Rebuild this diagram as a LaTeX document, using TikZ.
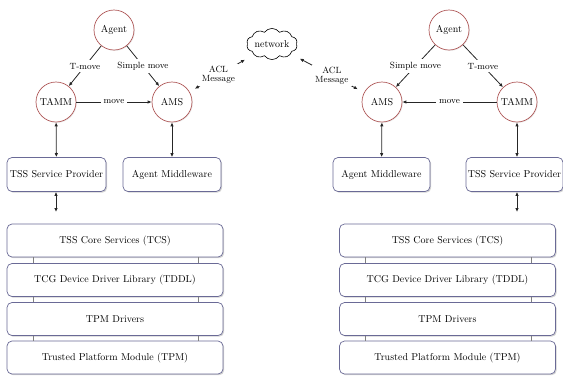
\documentclass[tikz,border=0pt]{standalone}
\usetikzlibrary{shapes.symbols,shadows,arrows.meta}
\definecolor{boxline}{HTML}{6A6A96}
\definecolor{circline}{HTML}{B05A5A}
\tikzset{
  agentnode/.style={circle,draw=circline,line width=0.7pt,fill=white,minimum size=40pt,inner sep=0pt,font=\normalsize,
    drop shadow={opacity=0.2,shadow xshift=0.8pt,shadow yshift=-0.8pt}},
  softbox/.style={rectangle,rounded corners=5pt,draw=boxline,line width=0.7pt,fill=white,inner sep=0pt,font=\normalsize,
    drop shadow={opacity=0.35,shadow xshift=1.2pt,shadow yshift=-1.2pt}},
  conn/.style={-{Latex[length=4pt,width=3.5pt]},line width=0.8pt,draw=black!85},
  bconn/.style={{Latex[length=4pt,width=3.5pt]}-{Latex[length=4pt,width=3.5pt]},line width=0.8pt,draw=black!85},
  elabel/.style={fill=white,inner sep=3pt,font=\small},
  acllabel/.style={fill=white,inner sep=2pt,font=\small,align=center,text width=36pt},
  layerlink/.style={line width=0.6pt,draw=gray},
}
\begin{document}
\begin{tikzpicture}[x=1pt,y=-1pt]
\useasboundingbox (0,0) rectangle (563,376);
% cloud
\node[cloud,draw,line width=0.6pt,fill=white,cloud puffs=10,cloud puff arc=110,aspect=2,minimum width=46pt,minimum height=28pt,inner sep=0pt,font=\normalsize] (net) at (272,44) {network};

% ---------- left side ----------
\node[agentnode] (agentL) at (114,30) {Agent};
\node[agentnode] (tammL) at (56,102) {TAMM};
\node[agentnode] (amsL) at (172,102) {AMS};
\node[softbox,minimum width=99pt,minimum height=34pt] (tspL) at (56.5,174.5) {TSS Service Provider};
\node[softbox,minimum width=98pt,minimum height=34pt] (amwL) at (172,174.5) {Agent Middleware};
\node[softbox,minimum width=216pt,minimum height=33pt] (tcsL) at (115,240.5) {TSS Core Services (TCS)};
\node[softbox,minimum width=216pt,minimum height=33pt] (tddlL) at (115,280) {TCG Device Driver Library (TDDL)};
\node[softbox,minimum width=216pt,minimum height=33pt] (drvL) at (115,319) {TPM Drivers};
\node[softbox,minimum width=216pt,minimum height=33pt] (tpmL) at (115,357.5) {Trusted Platform Module (TPM)};
\coordinate (tspLend) at (56,212);

\draw[conn] (agentL) -- node[elabel]{T-move} (tammL);
\draw[conn] (agentL) -- node[elabel]{Simple move} (amsL);
\draw[conn] (tammL) -- node[elabel]{move} (amsL);
\draw[bconn] (tammL) -- (tspL);
\draw[bconn] (amsL) -- (amwL);
\draw[bconn] (tspL.south -| tspLend) -- (tspLend);
\foreach \a/\b in {tcsL/tddlL,tddlL/drvL,drvL/tpmL}{
  \draw[layerlink] (\a.south -| 33,0) -- (\b.north -| 33,0);
  \draw[layerlink] (\a.south -| 198,0) -- (\b.north -| 198,0);
}
\draw[bconn,shorten <=6pt,shorten >=10pt] (amsL) -- node[acllabel,pos=0.45]{ACL\\[-2pt]Message} (net);

% ---------- right side ----------
\node[agentnode] (agentR) at (449,30) {Agent};
\node[agentnode] (amsR) at (382,102) {AMS};
\node[agentnode] (tammR) at (517,102) {TAMM};
\node[softbox,minimum width=97pt,minimum height=34pt] (amwR) at (381.5,174.5) {Agent Middleware};
\node[softbox,minimum width=97pt,minimum height=34pt] (tspR) at (514.5,174.5) {TSS Service Provider};
\node[softbox,minimum width=216pt,minimum height=33pt] (tcsR) at (447.5,240.5) {TSS Core Services (TCS)};
\node[softbox,minimum width=216pt,minimum height=33pt] (tddlR) at (447.5,280) {TCG Device Driver Library (TDDL)};
\node[softbox,minimum width=216pt,minimum height=33pt] (drvR) at (447.5,319) {TPM Drivers};
\node[softbox,minimum width=216pt,minimum height=33pt] (tpmR) at (447.5,357.5) {Trusted Platform Module (TPM)};
\coordinate (tspRend) at (517,212);

\draw[conn] (agentR) -- node[elabel]{Simple move} (amsR);
\draw[conn] (agentR) -- node[elabel]{T-move} (tammR);
\draw[conn] (tammR) -- node[elabel]{move} (amsR);
\draw[bconn] (amsR) -- (amwR);
\draw[bconn] (tammR) -- (tammR |- tspR.north);
\draw[bconn] (tspR.south -| tspRend) -- (tspRend);
\foreach \a/\b in {tcsR/tddlR,tddlR/drvR,drvR/tpmR}{
  \draw[layerlink] (\a.south -| 365,0) -- (\b.north -| 365,0);
  \draw[layerlink] (\a.south -| 531,0) -- (\b.north -| 531,0);
}
\draw[bconn,shorten <=7pt,shorten >=10pt] (amsR) -- node[acllabel,pos=0.44]{ACL\\[-2pt]Message} (net);
\end{tikzpicture}
\end{document}
